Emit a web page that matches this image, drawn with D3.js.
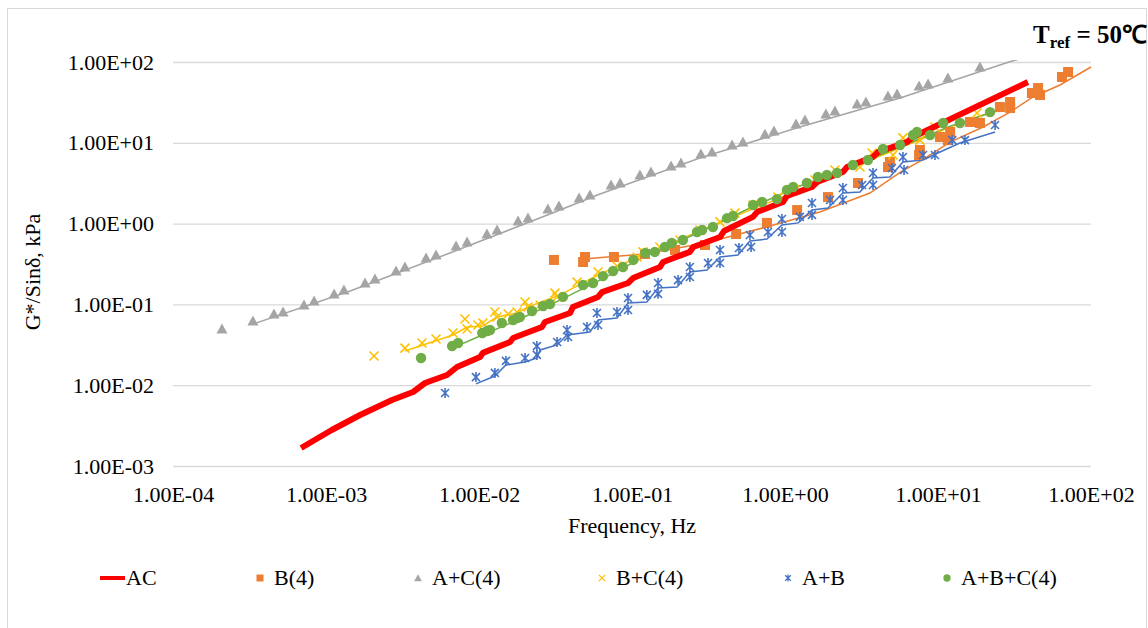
<!DOCTYPE html>
<html><head><meta charset="utf-8">
<script src="https://cdn.jsdelivr.net/npm/d3@7"></script>
<style>
html,body{margin:0;padding:0;background:#fff;}
</style></head>
<body>
<svg id="chart" width="1148" height="628"></svg>
<script>
// ---------- DATA ----------
const xTickValues = [1e-4, 1e-3, 1e-2, 1e-1, 1, 10, 100];
const xTickLabels = ["1.00E-04","1.00E-03","1.00E-02","1.00E-01","1.00E+00","1.00E+01","1.00E+02"];
const yTickValues = [1e-3, 1e-2, 1e-1, 1, 10, 100];
const yTickLabels = ["1.00E-03","1.00E-02","1.00E-01","1.00E+00","1.00E+01","1.00E+02"];
const seriesNames = ["AC","B(4)","A+C(4)","B+C(4)","A+B","A+B+C(4)"];

// AC (red thick line)
const acFreq = [6.87e-4,1.09e-3,1.67e-3,2.70e-3,3.71e-3,4.44e-3,6.18e-3,7.18e-3,1.016e-2,1.06e-2,1.596e-2,1.67e-2,2.58e-2,2.70e-2,3.94e-2,4.11e-2,6.00e-2,6.37e-2,9.42e-2,0.1017,0.1524,0.1596,0.239,0.251,0.376,0.399,0.618,0.656,0.970,1.03,1.50,1.62,2.39,2.54,3.76,4.05,6.27,6.87,38.7];
const acG    = [1.67e-3,2.79e-3,4.28e-3,6.56e-3,8.24e-3,1.064e-2,1.337e-2,1.68e-2,2.23e-2,2.51e-2,3.43e-2,3.84e-2,5.25e-2,6.05e-2,7.83e-2,9.29e-2,0.1236,0.142,0.184,0.212,0.290,0.335,0.446,0.513,0.682,0.809,1.21,1.39,1.85,2.20,2.84,3.27,4.35,5.01,6.67,7.69,10.2,11.8,56.5];

// B(4)
const b4Freq = [0.0309,0.0479,0.0493,0.0762,0.1216,0.191,0.300,0.479,0.762,1.20,1.91,3.00,4.71,4.85,7.52,7.62,10.3,11.6,12.0,16.2,18.8,25.4,29.6,29.6,41.1,45.1,46.4,64.6,70.8];
const b4G    = [0.355,0.335,0.386,0.386,0.421,0.471,0.543,0.743,1.02,1.47,2.13,3.18,5.01,5.78,7.06,8.15,11.8,10.8,13.6,18.1,17.6,27.7,32.0,27.0,41.3,47.6,39.1,65.2,75.2];
const b4LineFreq = [0.0479,0.1216,0.300,0.798,1.69,3.59,5.65,7.85,12.0,19.7,29.6,41.8,62.7,100];
const b4LineG    = [0.365,0.421,0.575,0.933,1.39,2.39,4.30,6.10,10.2,15.7,24.0,36.9,51.9,86.7];

// A+C(4)
const acC4Freq = [2.09e-4,3.33e-4,4.57e-4,5.24e-4,7.18e-4,8.36e-4,1.13e-3,1.31e-3,1.80e-3,2.09e-3,2.87e-3,3.28e-3,4.51e-3,5.24e-3,7.08e-3,8.36e-3,1.127e-2,1.313e-2,1.80e-2,2.09e-2,2.82e-2,3.33e-2,4.51e-2,5.31e-2,7.30e-2,8.36e-2,0.1127,0.133,0.180,0.209,0.282,0.333,0.451,0.531,0.740,0.847,1.18,1.35,1.85,2.12,2.96,3.38,4.71,5.40,7.52,8.61,11.6,18.8];
const acC4G    = [0.0497,0.0623,0.0760,0.0805,0.0984,0.110,0.1345,0.1507,0.184,0.206,0.259,0.290,0.375,0.409,0.528,0.592,0.743,0.834,1.076,1.17,1.52,1.65,2.07,2.26,3.00,3.18,3.99,4.35,5.16,5.62,7.27,7.69,9.4,10.2,12.8,14.0,17.1,19.1,22.7,24.8,30.2,32.0,37.9,40.2,50.5,53.4,63.4,86.7];
const acC4LineFreq = [3.33e-4,1.44e-3,6.45e-3,0.0291,0.0618,0.278,1.25,5.65,29.1,46.4];
const acC4LineG    = [0.0571,0.1466,0.4325,1.315,2.32,6.49,15.7,35.8,100,129];

// B+C(4)
const bc4Freq = [2.06e-3,3.28e-3,4.24e-3,5.24e-3,6.76e-3,8.09e-3,8.36e-3,9.84e-3,1.06e-2,1.27e-2,1.31e-2,1.55e-2,1.77e-2,2.00e-2,2.09e-2,2.51e-2,3.14e-2,3.24e-2,4.38e-2,6.00e-2,7.98e-2,0.108,0.118,0.152,0.206,0.278,0.376,0.471,0.618,0.899,1.16,1.57,2.12,3.09,3.71,5.08,5.90,7.62,9.55,18.0];
const bc4G    = [2.30e-2,2.88e-2,3.33e-2,3.73e-2,4.43e-2,6.59e-2,4.96e-2,5.56e-2,5.89e-2,8.05e-2,6.98e-2,7.60e-2,8.05e-2,0.107,9.29e-2,9.84e-2,0.138,0.124,0.189,0.252,0.299,0.386,0.446,0.513,0.627,0.834,1.05,1.35,1.70,2.13,2.61,3.47,4.60,5.01,7.48,7.06,11.5,10.8,15.7,23.4];
const bc4LineFreq = [3.28e-3,6.76e-3,8.36e-3,1.06e-2,1.31e-2,1.77e-2,2.09e-2,3.38e-2,6.18e-2,0.131,0.278,0.590,1.25,2.66,5.65,12.0,24.3];
const bc4LineG    = [2.65e-2,4.18e-2,5.25e-2,5.41e-2,6.98e-2,7.83e-2,9.29e-2,0.131,0.238,0.446,0.809,1.47,2.61,4.88,8.63,15.7,25.5];

// A+B
const abFreq = [6.0e-3,9.55e-3,1.27e-2,1.50e-2,2.00e-2,2.39e-2,2.39e-2,3.24e-2,3.76e-2,3.82e-2,5.08e-2,5.90e-2,6.00e-2,7.98e-2,9.42e-2,9.42e-2,0.125,0.148,0.148,0.200,0.239,0.239,0.314,0.376,0.376,0.500,0.590,0.60,0.774,0.955,0.955,1.25,1.50,1.50,1.97,2.39,2.39,3.19,3.76,3.76,5.00,5.90,6.0,7.98,9.55,12.4,15.0,23.6];
const abG    = [8.0e-3,1.26e-2,1.42e-2,2.00e-2,2.17e-2,2.37e-2,3.05e-2,3.43e-2,4.82e-2,3.95e-2,5.25e-2,7.83e-2,5.56e-2,8.05e-2,0.120,8.53e-2,0.131,0.184,0.135,0.200,0.290,0.218,0.325,0.471,0.325,0.499,0.723,0.513,0.787,1.14,0.787,1.21,1.80,1.28,1.96,2.76,1.96,3.00,4.23,3.00,4.88,6.67,4.60,7.06,7.06,10.8,10.8,16.6];
const abLineFreq = [9.55e-3,1.27e-2,1.50e-2,2.00e-2,2.39e-2,2.51e-2,3.24e-2,3.76e-2,5.31e-2,6.00e-2,7.98e-2,9.42e-2,0.125,0.148,0.197,0.239,0.309,0.376,0.493,0.590,0.762,0.955,1.22,1.50,1.91,2.39,3.09,3.76,4.85,5.90,7.98,10.3,13.9,23.6];
const abLineG    = [1.04e-2,1.30e-2,1.78e-2,1.94e-2,2.17e-2,2.73e-2,3.15e-2,4.18e-2,4.55e-2,6.41e-2,6.79e-2,0.104,0.107,0.160,0.164,0.252,0.267,0.386,0.409,0.609,0.644,0.961,1.02,1.47,1.56,2.39,2.46,3.66,3.77,5.78,6.12,7.69,9.95,13.6];

// A+B+C(4)
const abc4Freq = [4.18e-3,6.67e-3,7.30e-3,1.05e-2,1.13e-2,1.18e-2,1.41e-2,1.67e-2,1.77e-2,1.85e-2,2.22e-2,2.62e-2,2.91e-2,3.54e-2,4.79e-2,5.56e-2,6.46e-2,7.52e-2,8.73e-2,0.102,0.122,0.141,0.164,0.182,0.215,0.266,0.287,0.338,0.418,0.457,0.618,0.708,0.887,1.03,1.13,1.39,1.64,1.88,2.19,2.78,3.48,4.37,5.65,6.87,7.29,8.87,10.8,13.9,21.9];
const abc4G    = [2.17e-2,3.05e-2,3.33e-2,4.43e-2,4.69e-2,4.82e-2,5.89e-2,6.41e-2,6.79e-2,6.98e-2,8.28e-2,9.55e-2,0.101,0.124,0.174,0.184,0.224,0.259,0.290,0.355,0.433,0.446,0.513,0.575,0.627,0.787,0.834,0.908,1.17,1.24,1.70,1.85,2.01,2.61,2.84,3.18,3.77,3.99,4.23,5.31,6.12,8.38,9.40,12.5,13.6,12.5,17.6,17.6,24.0];
const abc4LineFreq = [6.67e-3,1.05e-2,1.85e-2,3.38e-2,6.18e-2,0.131,0.278,0.590,1.25,2.66,5.65,12.0,21.9];
const abc4LineG    = [2.88e-2,4.18e-2,6.59e-2,0.113,0.200,0.421,0.787,1.56,2.92,5.01,8.87,16.1,23.4];

// ---------- DRAW ----------
const FONT = "'Liberation Serif','Times New Roman',Times,serif";
const FS = 22;
const svg = d3.select("#chart");
const W = 1148, H = 628;
const plot = {left:173, right:1091, top:62, bottom:466};

svg.append("rect").attr("x",0).attr("y",0).attr("width",W).attr("height",H).attr("fill","#fff");
svg.append("rect").attr("x",7.5).attr("y",8.5).attr("width",1139).attr("height",640)
   .attr("fill","none").attr("stroke","#D9D9D9").attr("stroke-width",1);

const x = d3.scaleLog().domain([1e-4,1e2]).range([plot.left,plot.right]);
const y = d3.scaleLog().domain([1e-3,1e2]).range([plot.bottom,plot.top]);

// y axis + gridlines
const yAxis = svg.append("g").attr("transform",`translate(${plot.left},0)`)
  .call(d3.axisLeft(y).tickValues(yTickValues).tickFormat((d,i)=>yTickLabels[i])
        .tickSize(-(plot.right-plot.left)).tickPadding(19));
yAxis.select(".domain").remove();
yAxis.selectAll("line").attr("stroke","#D9D9D9").attr("stroke-width",1.3);
yAxis.selectAll("text").attr("font-size",FS).attr("fill","#000");

// x axis
const xAxis = svg.append("g").attr("transform",`translate(0,${plot.bottom})`)
  .call(d3.axisBottom(x).tickValues(xTickValues).tickFormat((d,i)=>xTickLabels[i])
        .tickSize(0).tickPadding(20));
xAxis.select(".domain").remove();
xAxis.selectAll("text").attr("font-size",FS).attr("fill","#000");

// axis titles
svg.append("text").attr("x",(plot.left+plot.right)/2).attr("y",533)
   .attr("text-anchor","middle").attr("font-size",FS).text("Frequency, Hz");
svg.append("text").attr("transform","translate(40,272) rotate(-90)")
   .attr("text-anchor","middle").attr("font-size",FS).text("G*/Sinδ, kPa");

// T_ref title
const tt = svg.append("text").attr("x",1147).attr("y",43).attr("text-anchor","end")
   .attr("font-weight","bold").attr("font-size",25);
tt.append("tspan").text("T");
tt.append("tspan").attr("font-size",17).attr("dy",5).text("ref");
tt.append("tspan").attr("dy",-5).text(" = 50℃");

// clip
svg.append("clipPath").attr("id","clip").append("rect")
   .attr("x",plot.left).attr("y",plot.top-2).attr("width",plot.right-plot.left+2).attr("height",plot.bottom-plot.top+4);

const zip = (f,g)=>f.map((v,i)=>[v,g[i]]);
const line = d3.line().x(d=>x(d[0])).y(d=>y(d[1]));
const gLines = svg.append("g").attr("clip-path","url(#clip)");

const colors = {ac:"#FF0000", b4:"#ED7D31", acC4:"#A5A5A5", bc4:"#FFC000", ab:"#4472C4", abc4:"#70AD47"};

gLines.append("path").datum(zip(acC4LineFreq,acC4LineG)).attr("d",line)
  .attr("fill","none").attr("stroke",colors.acC4).attr("stroke-width",1.5);
gLines.append("path").datum(zip(b4LineFreq,b4LineG)).attr("d",line)
  .attr("fill","none").attr("stroke",colors.b4).attr("stroke-width",1.5);
gLines.append("path").datum(zip(bc4LineFreq,bc4LineG)).attr("d",line)
  .attr("fill","none").attr("stroke",colors.bc4).attr("stroke-width",1.5);
gLines.append("path").datum(zip(abLineFreq,abLineG)).attr("d",line)
  .attr("fill","none").attr("stroke",colors.ab).attr("stroke-width",1.5);
gLines.append("path").datum(zip(abc4LineFreq,abc4LineG)).attr("d",line)
  .attr("fill","none").attr("stroke",colors.abc4).attr("stroke-width",1.5);

// markers
const sym = {
  square: "M-5,-5H5V5H-5Z",
  tri: "M0,-5.5L5.5,4.5L-5.5,4.5Z",
  cross: "M-4.5,-4.5L4.5,4.5M-4.5,4.5L4.5,-4.5",
  star: "M-4,-4L4,4M-4,4L4,-4M0,-5V5",
  circle: d3.symbol().type(d3.symbolCircle).size(85)()
};
function markers(f,g,path,color,filled,sw){
  const gg = svg.append("g");
  gg.selectAll("path").data(zip(f,g)).join("path")
    .attr("transform",d=>`translate(${x(d[0])},${y(d[1])})`)
    .attr("d",path)
    .attr("fill",filled?color:"none")
    .attr("stroke",filled?"none":color)
    .attr("stroke-width",sw||1.5);
}
markers(acC4Freq,acC4G,sym.tri,colors.acC4,true);
markers(b4Freq,b4G,sym.square,colors.b4,true);
markers(bc4Freq,bc4G,sym.cross,colors.bc4,false,1.6);
markers(abFreq,abG,sym.star,colors.ab,false,1.6);

// AC red line
svg.append("path").datum(zip(acFreq,acG)).attr("d",line)
  .attr("fill","none").attr("stroke",colors.ac).attr("stroke-width",6)
  .attr("stroke-linejoin","round");

markers(abc4Freq,abc4G,sym.circle,colors.abc4,true);

// legend
const legX = [100,255,413,597,783,942];
const legY = 578;
const lg = svg.append("g");
seriesNames.forEach((name,i)=>{
  const lx = legX[i];
  if(i===0){
    lg.append("line").attr("x1",lx).attr("x2",lx+25).attr("y1",legY).attr("y2",legY)
      .attr("stroke",colors.ac).attr("stroke-width",4);
    lg.append("text").attr("x",lx+26).attr("y",legY+7).attr("font-size",FS).text(name);
  } else {
    const key = ["ac","b4","acC4","bc4","ab","abc4"][i];
    const p = [null,sym.square,sym.tri,sym.cross,sym.star,sym.circle][i];
    const filled = [true,true,true,false,false,true][i];
    lg.append("path").attr("transform",`translate(${lx+5},${legY}) scale(0.7)`).attr("d",p)
      .attr("fill",filled?colors[key]:"none").attr("stroke",filled?"none":colors[key]).attr("stroke-width",1.8);
    lg.append("text").attr("x",lx+19).attr("y",legY+7).attr("font-size",FS).text(name);
  }
});

svg.selectAll("text").attr("font-family",FONT).style("font-family",FONT);
svg.selectAll("g").attr("font-family",null);
</script>
</body></html>
